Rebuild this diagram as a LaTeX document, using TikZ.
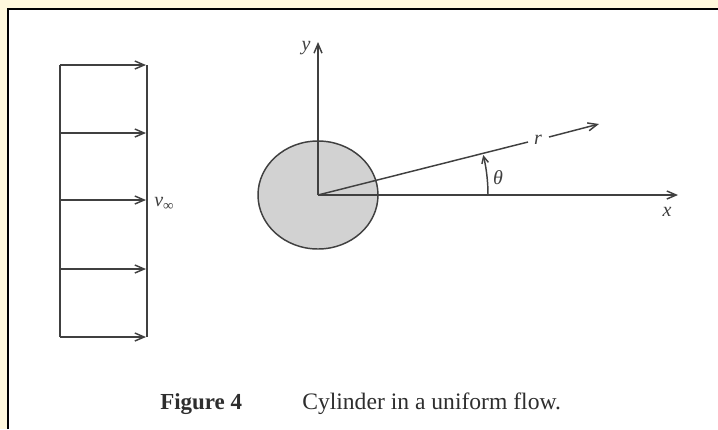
\documentclass[tikz,border=0pt]{standalone}
\usepackage{fontspec}
\setmainfont{Liberation Serif}
\usetikzlibrary{arrows.meta}
\definecolor{cream}{HTML}{FFF8DC}
\definecolor{ink}{HTML}{404040}
\definecolor{capink}{HTML}{2E2E2E}
\definecolor{cyl}{HTML}{D2D2D2}
\begin{document}
\begin{tikzpicture}[x=0.75pt,y=-0.75pt,
  line/.style={draw=ink, line width=1.1pt},
  arr/.style={line, -{Straight Barb[length=7pt,width=6pt]}},
  lbl/.style={font=\fontsize{15}{17}\selectfont\itshape, text=ink, inner sep=0pt}]
\useasboundingbox (0,0) rectangle (718,429);
\fill[cream] (0,0) rectangle (718,429);
\fill[white] (8,9) rectangle (718,429);
\draw[black, line width=1.6pt] (8,429) -- (8,9) -- (718,9);
% flow profile
\coordinate (pl1) at (60,65); \coordinate (pl2) at (60,337);
\coordinate (pr1) at (147,65); \coordinate (pr2) at (147,337);
\draw[line] (pl1) -- (pl2);
\draw[line] (pr1) -- (pr2);
\foreach \yy [count=\i] in {65,133,200,269,337} {
  \coordinate (a\i) at (60,\yy);
  \coordinate (b\i) at (146,\yy);
  \draw[arr] (a\i) -- (b\i);
}
\node[lbl, anchor=west] (vinf) at (154,204) {v\raisebox{-0.35ex}{\fontsize{11}{12}\selectfont\upshape ∞}};
% cylinder
\coordinate (O) at (318,195);
\fill[cyl] (O) ellipse [x radius=60, y radius=54];
\draw[line] (O) ellipse [x radius=60, y radius=54];
\coordinate (ytip) at (318,42);
\coordinate (xtip) at (678,195);
\coordinate (rtip) at (599,124);
\coordinate (rg1) at (528,142);
\coordinate (rg2) at (549,137);
\draw[arr] (O) -- (ytip);
\draw[arr] (O) -- (xtip);
\draw[line] (O) -- (rg1);
\draw[arr] (rg2) -- (rtip);
\node[lbl] (rl) at (538,140) {r};
\node[lbl] (yl) at (306,48) {y};
\node[lbl] (xl) at (667,212) {x};
\node[lbl] (th) at (498,178) {θ};
\draw[line, -{Straight Barb[length=5pt,width=5pt]}] (488,195) arc[start angle=0, end angle=-13.6, radius=170];
% caption
\node[font=\fontsize{17.2}{20}\selectfont\bfseries, text=capink, anchor=west, inner sep=0pt] (fig) at (160,404) {Figure 4};
\node[font=\fontsize{17.7}{20}\selectfont, text=capink, anchor=west, inner sep=0pt] (cap) at (302,404) {Cylinder in a uniform flow.};
\end{tikzpicture}
\end{document}
